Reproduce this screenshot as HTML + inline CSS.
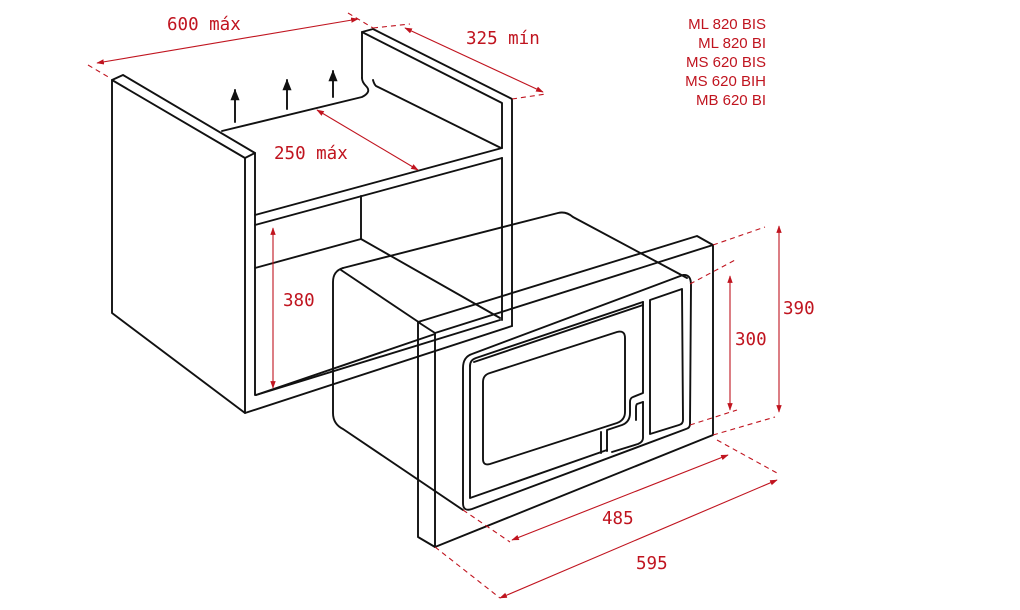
<!DOCTYPE html>
<html><head><meta charset="utf-8"><style>
html,body{margin:0;padding:0;background:#fff;}
svg{display:block;}
.k{fill:none;stroke:#111;stroke-width:1.9;stroke-linejoin:round;stroke-linecap:round;}
.r{fill:none;stroke:#c0141f;stroke-width:1.1;}
.d{fill:none;stroke:#c0141f;stroke-width:1.1;stroke-dasharray:5 4;}
.t{font-family:"DejaVu Sans Mono","Liberation Mono",monospace;font-size:17.5px;fill:#c0141f;}
.m{font-family:"Liberation Sans",sans-serif;font-size:15px;fill:#c0141f;text-anchor:end;}
</style></head><body>
<svg width="1020" height="610" viewBox="0 0 1020 610" xmlns="http://www.w3.org/2000/svg">
<defs>
<marker id="a" viewBox="0 0 10 10" refX="9" refY="5" markerWidth="7" markerHeight="7" orient="auto-start-reverse"><path d="M0,1.5 L10,5 L0,8.5 z" fill="#c0141f"/></marker>
<marker id="b" viewBox="0 0 10 10" refX="9" refY="5" markerWidth="6" markerHeight="6" orient="auto"><path d="M0,1 L10,5 L0,9 z" fill="#111"/></marker>
</defs>

<!-- cabinet -->
<polygon class="k" points="112,80 245,158 245,413 112,313"/>
<polyline class="k" points="112,80 123,75 255,153 245,158"/>
<line class="k" x1="255" y1="153" x2="255" y2="395"/>
<line class="k" x1="245" y1="413" x2="512" y2="326"/>
<line class="k" x1="256" y1="395" x2="500" y2="320"/>
<!-- right panel -->
<polyline class="k" points="362,78 362,32 373,29 512,99 512,326"/>
<polyline class="k" points="362,32 502,103 502,148"/>
<line class="k" x1="502" y1="158" x2="502" y2="320"/>
<path class="k" d="M222,131 L362,97 Q372,92 366,86 Q362,82 362,78"/>
<path class="k" d="M373,80 Q374,84 376,86 L501,148"/>
<!-- shelf -->
<line class="k" x1="255" y1="215" x2="502" y2="148"/>
<line class="k" x1="255" y1="225" x2="502" y2="158"/>
<line class="k" x1="361" y1="196" x2="361" y2="239"/>
<line class="k" x1="255" y1="268" x2="361" y2="239"/>
<line class="k" x1="361" y1="239" x2="500" y2="318"/>

<!-- vent arrows -->
<line class="k" x1="235" y1="122" x2="235" y2="90" marker-end="url(#b)"/>
<line class="k" x1="287" y1="109" x2="287" y2="80" marker-end="url(#b)"/>
<line class="k" x1="333" y1="97" x2="333" y2="71" marker-end="url(#b)"/>

<!-- microwave body -->
<path class="k" d="M343,268 L558,213 Q566,211 573,217 L687,278"/>
<path class="k" d="M343,268 Q333,271 333,282 L333,413 Q333,424 343,429 L463,510"/>
<line class="k" x1="341" y1="270" x2="420" y2="323"/>

<!-- frame -->
<polygon class="k" points="435,333 713,245 713,435 435,547"/>
<polyline class="k" points="435,333 418,322 418,537 435,547"/>
<polyline class="k" points="418,322 697,236 713,245"/>
<line class="k" x1="256" y1="395" x2="435" y2="334"/>

<!-- door -->
<path class="k" d="M463,368 Q463,357 472,354 L683,275 Q691,274 691,285 L690,424 Q690,428 686,429 L472,509 Q463,512 463,503 Z"/>
<path class="k" d="M470,366 Q470,360 476,358 L643,302"/>
<path class="k" d="M470,366 L470,498 L607,450"/>
<path class="k" d="M474,362 L643,305"/>
<path class="k" d="M650,300 L682,289 L683,420 Q683,424 679,425 L650,434 Z"/>
<path class="k" d="M643,302 L643,393 L633,397 Q630,398 630,402 L630,413 Q630,422 622,425 L607,430 L607,451"/>
<path class="k" d="M643,402 L643,438 Q643,442 638,444 L612,452"/>
<path class="k" d="M643,402 L637,404 Q636,405 636,408 L636,420"/>
<path class="k" d="M601,432 L601,453"/>
<path class="k" d="M490,373 L617,332 Q625,330 625,338 L625,412 Q625,420 617,423 L490,464 Q483,466 483,459 L483,382 Q483,375 490,373 Z"/>

<!-- dimensions -->
<line class="d" x1="88" y1="65" x2="110" y2="78"/>
<line class="d" x1="348" y1="13" x2="373" y2="28"/>
<line class="r" x1="97" y1="63" x2="358" y2="19" marker-start="url(#a)" marker-end="url(#a)"/>
<text class="t" x="167" y="30">600 máx</text>

<line class="d" x1="373" y1="28" x2="410" y2="24"/>
<line class="d" x1="512" y1="99" x2="546" y2="94"/>
<line class="r" x1="405" y1="28" x2="543" y2="92" marker-start="url(#a)" marker-end="url(#a)"/>
<text class="t" x="466" y="44">325 mín</text>

<line class="r" x1="317" y1="110" x2="418" y2="170" marker-start="url(#a)" marker-end="url(#a)"/>
<text class="t" x="274" y="159">250 máx</text>

<line class="r" x1="273" y1="228" x2="273" y2="388" marker-start="url(#a)" marker-end="url(#a)"/>
<text class="t" x="283" y="306">380</text>

<line class="d" x1="713" y1="245" x2="765" y2="227"/>
<line class="d" x1="713" y1="435" x2="775" y2="417"/>
<line class="r" x1="779" y1="226" x2="779" y2="412" marker-start="url(#a)" marker-end="url(#a)"/>
<text class="t" x="783" y="314">390</text>

<line class="d" x1="690" y1="284" x2="737" y2="259"/>
<line class="d" x1="690" y1="425" x2="737" y2="410"/>
<line class="r" x1="730" y1="276" x2="730" y2="410" marker-start="url(#a)" marker-end="url(#a)"/>
<text class="t" x="735" y="345">300</text>

<line class="d" x1="463" y1="510" x2="510" y2="542"/>
<line class="d" x1="717" y1="440" x2="777" y2="473"/>
<line class="r" x1="512" y1="540" x2="728" y2="455" marker-start="url(#a)" marker-end="url(#a)"/>
<text class="t" x="602" y="524">485</text>

<line class="d" x1="435" y1="547" x2="500" y2="598"/>
<line class="r" x1="500" y1="598" x2="777" y2="480" marker-start="url(#a)" marker-end="url(#a)"/>
<text class="t" x="636" y="569">595</text>

<!-- model list -->
<text class="m" x="766" y="29">ML 820 BIS</text>
<text class="m" x="766" y="48">ML 820 BI</text>
<text class="m" x="766" y="67">MS 620 BIS</text>
<text class="m" x="766" y="86">MS 620 BIH</text>
<text class="m" x="766" y="105">MB 620 BI</text>
</svg>
</body></html>
